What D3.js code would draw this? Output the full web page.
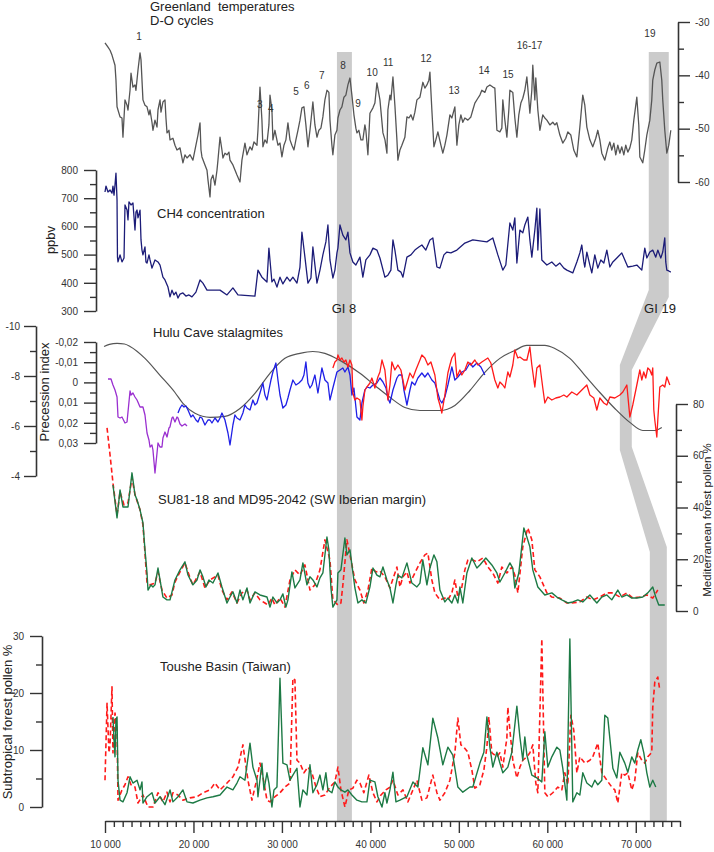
<!DOCTYPE html>
<html><head><meta charset="utf-8">
<script src="https://cdn.jsdelivr.net/npm/d3@7/dist/d3.min.js"></script>
<style>body{margin:0;background:#fff}svg{display:block}text{font-family:"Liberation Sans",Arial,sans-serif}</style>
</head><body><svg id="c" width="714" height="852"></svg>
<script>
// ages in ka (thousand years)
const greenland = [[10.00,-33.9],[10.34,-34.7],[10.57,-35.3],[10.79,-36.2],[11.13,-38.1],[11.24,-40.9],[11.36,-45.9],[11.70,-47.8],[11.92,-48.0],[12.03,-51.6],[12.26,-44.6],[12.49,-45.6],[12.60,-46.5],[12.83,-42.8],[12.94,-39.6],[13.16,-42.2],[13.39,-41.8],[13.50,-42.8],[13.73,-39.0],[13.96,-35.8],[14.07,-37.1],[14.29,-44.6],[14.52,-45.6],[14.75,-45.9],[14.97,-47.4],[15.09,-46.5],[15.31,-48.8],[15.42,-50.3],[15.65,-48.4],[15.88,-49.7],[15.99,-46.5],[16.22,-44.6],[16.33,-46.9],[16.55,-45.0],[16.78,-44.6],[16.89,-48.0],[17.01,-50.8],[17.23,-50.3],[17.35,-52.1],[17.68,-51.8],[17.91,-53.1],[18.14,-54.0],[18.48,-53.6],[18.81,-56.4],[19.04,-54.9],[19.27,-55.5],[19.61,-54.9],[19.94,-55.9],[20.28,-53.1],[20.51,-51.2],[20.74,-48.9],[20.85,-54.0],[20.96,-55.3],[21.30,-56.8],[21.53,-57.8],[21.64,-59.6],[21.87,-62.8],[21.98,-59.6],[22.20,-58.7],[22.43,-60.6],[22.66,-57.8],[22.77,-55.9],[23.00,-51.6],[23.22,-54.0],[23.33,-55.5],[23.56,-54.6],[23.79,-54.9],[24.01,-54.4],[24.13,-55.9],[24.46,-56.8],[24.92,-58.7],[25.26,-60.0],[25.48,-55.9],[25.82,-52.7],[26.05,-54.9],[26.39,-53.4],[26.61,-54.0],[26.84,-52.5],[27.18,-53.1],[27.29,-50.3],[27.52,-42.2],[27.74,-48.4],[27.85,-53.4],[28.08,-52.1],[28.31,-52.7],[28.53,-49.3],[28.65,-43.7],[28.87,-46.5],[28.98,-52.1],[29.21,-50.3],[29.55,-53.1],[29.78,-52.7],[30.00,-55.3],[30.23,-53.1],[30.45,-52.1],[30.68,-48.9],[30.91,-52.1],[31.13,-53.1],[31.36,-54.0],[31.58,-52.1],[31.81,-50.3],[32.04,-48.4],[32.26,-46.1],[32.49,-45.9],[32.71,-49.3],[32.94,-53.4],[33.17,-50.3],[33.50,-45.0],[33.73,-49.3],[33.96,-51.6],[34.18,-50.3],[34.41,-49.9],[34.63,-47.8],[34.86,-44.6],[35.09,-42.8],[35.31,-43.2],[35.43,-48.4],[35.65,-53.1],[35.76,-54.9],[35.99,-51.2],[36.22,-50.3],[36.33,-48.0],[36.56,-46.5],[36.78,-45.9],[37.01,-44.1],[37.23,-43.7],[37.46,-41.8],[37.69,-40.5],[37.91,-43.7],[38.14,-47.4],[38.36,-49.9],[38.48,-50.8],[38.70,-50.3],[38.93,-52.1],[39.15,-52.1],[39.38,-49.3],[39.49,-50.3],[39.72,-54.9],[39.95,-47.1],[40.29,-46.1],[40.51,-45.2],[40.74,-41.4],[41.08,-44.6],[41.42,-50.8],[41.65,-52.1],[41.87,-54.6],[41.98,-46.5],[42.21,-43.7],[42.32,-44.6],[42.55,-40.3],[42.77,-45.6],[43.00,-52.1],[43.11,-55.9],[43.34,-54.0],[43.56,-53.1],[43.90,-51.6],[44.13,-47.8],[44.36,-48.0],[44.58,-47.4],[44.81,-48.4],[45.03,-46.9],[45.26,-44.6],[45.60,-44.1],[45.93,-41.3],[46.16,-42.4],[46.39,-41.8],[46.61,-40.9],[46.73,-39.4],[46.95,-46.5],[47.18,-53.4],[47.40,-52.1],[47.63,-50.6],[47.97,-53.1],[48.19,-54.6],[48.42,-53.1],[48.65,-51.2],[48.99,-47.4],[49.21,-48.0],[49.55,-45.9],[49.78,-53.1],[50.00,-49.3],[50.23,-47.4],[50.45,-48.8],[50.68,-48.0],[51.02,-48.4],[51.36,-47.8],[51.58,-46.5],[51.81,-45.2],[52.15,-44.3],[52.38,-43.7],[52.60,-42.8],[52.94,-43.2],[53.17,-42.2],[53.51,-41.8],[53.84,-42.2],[54.07,-42.4],[54.30,-50.3],[54.64,-50.6],[54.86,-49.9],[54.97,-44.6],[55.20,-48.4],[55.43,-51.6],[55.65,-46.5],[55.77,-42.8],[56.10,-43.2],[56.33,-48.0],[56.56,-51.6],[56.78,-47.4],[57.01,-45.2],[57.23,-44.3],[57.46,-42.8],[57.69,-40.3],[57.91,-44.6],[58.03,-47.1],[58.25,-42.8],[58.36,-38.1],[58.59,-44.6],[58.70,-40.5],[58.93,-46.5],[59.16,-50.3],[59.49,-47.4],[59.72,-48.0],[59.95,-48.4],[60.29,-49.3],[60.62,-48.8],[60.85,-49.3],[61.08,-48.9],[61.42,-51.2],[61.75,-52.7],[62.09,-51.8],[62.32,-50.6],[62.66,-51.2],[62.99,-54.0],[63.34,-55.3],[63.68,-49.7],[63.90,-45.6],[64.01,-43.7],[64.24,-45.6],[64.47,-49.7],[64.81,-52.1],[65.14,-53.4],[65.48,-51.8],[65.71,-50.3],[65.94,-52.1],[66.16,-54.6],[66.50,-55.9],[66.84,-53.6],[67.07,-52.5],[67.29,-54.0],[67.52,-52.7],[67.74,-54.9],[67.97,-53.1],[68.20,-54.6],[68.42,-53.4],[68.65,-54.9],[68.87,-53.1],[69.10,-54.4],[69.33,-53.6],[69.55,-52.1],[69.78,-48.4],[70.12,-44.1],[70.34,-49.3],[70.46,-55.3],[70.79,-56.4],[71.02,-54.0],[71.25,-51.2],[71.59,-48.4],[71.81,-44.6],[71.92,-40.9],[72.15,-39.0],[72.38,-37.7],[72.72,-37.5],[72.94,-40.9],[73.05,-44.6],[73.28,-50.3],[73.51,-54.6],[73.73,-53.1],[73.96,-50.3]];

const ch4 = [[10.00,722],[10.11,743],[10.34,722],[10.57,729],[10.79,718],[10.90,743],[11.02,711],[11.13,747],[11.24,789],[11.36,694],[11.41,491],[11.47,474],[11.70,499],[11.92,474],[12.15,488],[12.26,676],[12.49,658],[12.60,623],[12.71,687],[12.94,676],[13.16,683],[13.39,587],[13.50,651],[13.62,658],[13.73,630],[13.96,658],[14.07,552],[14.18,516],[14.29,499],[14.52,527],[14.63,474],[14.75,470],[14.97,499],[15.09,481],[15.31,452],[15.65,481],[15.99,474],[16.22,463],[16.55,420],[16.78,410],[17.12,385],[17.35,350],[17.57,374],[17.80,357],[18.02,367],[18.25,346],[18.48,360],[18.81,364],[19.15,353],[19.49,357],[19.83,350],[20.28,367],[20.74,410],[21.07,399],[21.53,374],[23.00,374],[23.79,357],[24.46,382],[25.03,357],[26.95,353],[27.29,445],[27.74,420],[28.31,403],[28.53,523],[28.87,403],[29.10,413],[29.44,385],[29.78,420],[30.11,396],[30.57,420],[30.91,406],[31.24,420],[31.70,399],[32.04,456],[32.26,580],[32.60,491],[32.94,399],[33.28,417],[33.50,527],[33.96,399],[34.30,445],[34.63,499],[34.97,545],[35.20,605],[35.43,481],[35.76,417],[35.99,445],[36.22,506],[36.33,523],[36.56,605],[36.89,569],[37.23,552],[37.46,580],[37.69,506],[38.02,474],[38.36,463],[38.82,491],[39.15,420],[39.49,481],[39.95,499],[40.29,523],[40.74,516],[41.08,488],[41.64,420],[41.98,427],[42.32,445],[42.55,552],[42.77,516],[43.11,445],[43.45,438],[43.68,420],[44.13,491],[44.58,499],[45.03,516],[45.48,527],[45.82,534],[46.27,516],[46.73,552],[47.06,559],[47.52,456],[47.86,452],[48.31,499],[48.65,509],[49.10,506],[49.78,516],[50.68,541],[51.58,552],[53.17,545],[53.84,559],[54.41,499],[54.97,445],[55.31,463],[55.77,612],[56.10,587],[56.33,630],[56.56,470],[56.90,587],[57.23,577],[57.46,605],[57.80,633],[58.03,552],[58.25,491],[58.59,587],[58.82,665],[58.93,516],[59.16,662],[59.38,481],[59.72,470],[59.95,463],[60.51,474],[60.96,459],[61.42,470],[61.87,452],[62.21,445],[62.88,435],[63.34,474],[63.68,506],[63.90,534],[64.13,474],[64.24,456],[64.47,509],[64.81,463],[65.03,435],[65.37,499],[65.71,452],[66.05,481],[66.39,470],[66.73,516],[67.07,456],[67.41,474],[67.86,488],[68.42,506],[69.10,456],[69.66,459],[70.12,463],[70.68,445],[71.02,523],[71.25,488],[71.59,509],[71.92,516],[72.26,491],[72.49,516],[72.83,488],[73.05,509],[73.28,559],[73.39,474],[73.51,445],[73.73,442],[73.96,438]];

const precession = [[9.89,-0.0178],[10.5,-0.0188],[11.36,-0.0193],[12.2,-0.0190],[12.83,-0.0178],[14.52,-0.0119],[16.22,-0.0035],[17.91,0.0050],[18.81,0.0104],[20.17,0.0153],[21.87,0.0173],[23.56,0.0168],[25.26,0.0129],[26.95,0.0054],[28.65,-0.0045],[30.34,-0.0119],[32.04,-0.0144],[33.50,-0.0153],[34.86,-0.0144],[36.56,-0.0109],[38.82,-0.0045],[40.51,0.0015],[42.21,0.0074],[43.90,0.0124],[45.60,0.0139],[47.86,0.0139],[49.55,0.0114],[51.25,0.0040],[52.94,-0.0050],[54.64,-0.0119],[56.33,-0.0158],[57.69,-0.0183],[59.72,-0.0183],[60.85,-0.0168],[62.55,-0.0119],[64.24,-0.0035],[65.94,0.0050],[67.63,0.0129],[69.33,0.0198],[70.79,0.0238],[72.15,0.0238],[72.94,0.0223]];

const huluPurple = [[10.34,-7.88],[10.68,-7.88],[10.90,-7.64],[11.13,-7.44],[11.36,-7.16],[11.47,-6.36],[11.70,-6.32],[11.92,-6.36],[12.26,-6.12],[12.49,-6.16],[12.83,-7.40],[12.94,-7.24],[13.16,-7.32],[13.39,-7.16],[13.62,-7.04],[13.96,-6.76],[14.29,-6.76],[14.52,-6.44],[14.75,-5.72],[14.97,-5.44],[15.09,-5.16],[15.31,-5.24],[15.42,-5.04],[15.65,-4.12],[15.88,-4.92],[15.99,-5.32],[16.22,-5.16],[16.44,-5.16],[16.55,-5.52],[16.78,-5.76],[17.01,-5.56],[17.23,-5.92],[17.34,-5.96],[17.57,-6.32],[17.68,-6.36],[17.91,-6.16],[18.14,-6.36],[18.25,-6.32],[18.48,-6.08],[18.70,-6.00],[19.04,-6.08],[19.27,-6.00]];

const huluBlue = [[18.25,-6.52],[18.48,-6.72],[18.70,-6.84],[18.93,-6.76],[19.15,-6.80],[19.38,-6.64],[19.72,-6.36],[19.94,-6.44],[20.28,-6.24],[20.51,-6.16],[20.74,-6.36],[20.96,-6.32],[21.30,-6.04],[21.64,-6.24],[21.87,-6.24],[22.09,-6.12],[22.43,-6.32],[22.77,-6.16],[23.00,-6.32],[23.22,-6.52],[23.56,-6.24],[23.90,-5.72],[24.13,-5.24],[24.46,-6.04],[24.69,-6.44],[24.92,-6.32],[25.26,-6.24],[25.59,-6.52],[25.82,-6.84],[26.05,-6.72],[26.39,-6.64],[26.72,-7.04],[26.95,-6.84],[27.18,-6.92],[27.52,-7.32],[27.85,-7.72],[28.08,-7.24],[28.31,-7.04],[28.53,-7.44],[28.76,-7.84],[28.98,-8.16],[29.32,-8.52],[29.55,-7.84],[29.78,-7.24],[30.11,-6.72],[30.45,-6.84],[30.68,-7.12],[30.91,-7.44],[31.24,-7.84],[31.58,-7.64],[31.92,-7.72],[32.26,-7.84],[32.49,-8.04],[32.71,-8.56],[32.94,-7.72],[33.17,-7.52],[33.39,-7.64],[33.73,-8.04],[34.07,-7.32],[34.30,-7.84],[34.52,-8.32],[34.86,-7.84],[35.20,-7.72],[35.43,-7.04],[35.76,-7.52],[35.99,-7.84],[36.22,-8.16],[36.56,-8.24],[36.89,-8.32],[37.12,-8.16],[37.46,-8.36],[37.69,-8.04],[37.91,-7.24],[38.14,-7.52],[38.48,-6.36],[38.82,-6.24],[39.04,-6.92],[39.38,-7.44],[39.61,-7.56],[39.95,-7.52],[40.29,-7.64],[40.74,-7.72],[41.08,-7.92],[41.42,-7.76],[41.76,-7.52],[41.98,-7.12],[42.21,-6.92],[42.55,-7.44],[43.00,-7.92],[43.22,-8.04],[43.56,-8.04],[43.79,-7.44],[44.13,-6.84],[44.47,-7.44],[44.69,-7.76],[45.03,-7.64],[45.37,-7.92],[45.82,-8.12],[46.16,-7.96],[46.50,-8.12],[46.95,-7.84],[47.29,-7.72],[47.86,-7.04],[48.08,-6.92],[48.42,-7.16],[48.76,-7.64],[49.21,-8.36],[49.55,-7.84],[49.89,-7.96],[50.34,-8.16],[50.79,-8.24],[51.25,-8.52],[51.58,-8.36],[52.04,-8.52],[52.49,-8.36],[52.94,-8.04]];

const huluRed = [[35.76,-8.32],[35.99,-8.56],[36.22,-8.64],[36.33,-8.84],[36.56,-8.64],[36.78,-8.72],[37.01,-8.56],[37.23,-8.64],[37.46,-8.36],[37.69,-8.64],[37.91,-8.44],[38.02,-7.32],[38.25,-7.04],[38.48,-7.12],[38.82,-7.04],[39.04,-6.24],[39.15,-6.76],[39.38,-7.44],[39.61,-7.56],[39.95,-7.72],[40.17,-7.92],[40.51,-7.52],[40.85,-7.96],[41.08,-8.16],[41.31,-8.64],[41.64,-8.24],[41.98,-7.04],[42.21,-7.64],[42.43,-8.56],[42.77,-8.24],[43.11,-8.44],[43.45,-8.24],[43.90,-7.44],[44.24,-7.84],[44.47,-8.12],[44.81,-7.92],[45.14,-8.24],[45.37,-8.44],[45.60,-8.64],[45.82,-8.84],[46.16,-8.72],[46.50,-8.44],[46.84,-8.56],[47.29,-8.04],[47.63,-7.12],[47.86,-6.84],[48.08,-6.52],[48.42,-7.24],[48.76,-8.12],[48.99,-8.44],[49.21,-8.72],[49.55,-8.92],[49.78,-7.96],[50.12,-8.24],[50.34,-8.04],[50.68,-8.24],[51.02,-8.56],[51.36,-8.44],[51.81,-8.64],[52.15,-8.44],[52.60,-8.56],[52.94,-8.64],[53.28,-8.72],[53.62,-8.52],[54.07,-7.84],[54.41,-7.52],[54.64,-7.76],[54.97,-7.64],[55.20,-7.52],[55.54,-8.16],[55.77,-7.96],[56.10,-8.44],[56.33,-9.04],[56.67,-8.72],[56.90,-8.76],[57.35,-8.64],[57.69,-8.64],[58.03,-9.16],[58.25,-8.44],[58.59,-7.56],[58.82,-8.32],[59.16,-8.44],[59.49,-7.52],[59.72,-6.92],[60.06,-7.16],[60.51,-7.04],[60.96,-7.12],[61.42,-7.16],[61.87,-7.24],[62.21,-7.16],[62.77,-7.36],[63.34,-7.24],[63.90,-7.44],[64.47,-7.64],[64.81,-7.24],[65.26,-7.12],[65.60,-6.64],[65.94,-7.12],[66.39,-6.92],[66.73,-6.84],[67.07,-7.16],[67.63,-7.12],[68.20,-7.24],[68.54,-7.36],[68.99,-7.64],[69.33,-6.36],[69.66,-6.84],[70.12,-7.64],[70.46,-8.24],[70.68,-7.84],[70.90,-8.16],[71.13,-7.92],[71.36,-8.32],[71.59,-8.24],[71.81,-8.04],[71.92,-8.32],[72.04,-6.64],[72.15,-6.24],[72.38,-5.56],[72.49,-6.24],[72.72,-7.56],[73.05,-7.64],[73.28,-7.56],[73.51,-7.96],[73.85,-7.64]];

const iberianGreen = [[10.90,48.7],[11.36,36.0],[11.70,46.8],[12.03,40.2],[12.26,40.2],[12.60,40.2],[13.05,53.4],[13.39,44.9],[13.62,42.9],[13.96,39.1],[14.29,34.0],[14.52,23.6],[14.75,14.7],[14.86,8.1],[15.20,10.1],[15.42,9.3],[15.65,10.1],[15.99,16.6],[16.22,12.0],[16.55,5.4],[17.01,4.3],[17.35,4.3],[17.91,12.0],[18.48,15.9],[19.04,19.0],[19.38,13.9],[19.94,10.1],[20.40,12.0],[20.74,15.9],[21.07,13.2],[21.41,9.3],[21.75,12.0],[22.20,10.8],[22.77,14.7],[23.22,9.3],[23.79,3.1],[24.13,5.4],[24.46,7.4],[24.92,3.1],[25.26,8.1],[25.59,4.3],[26.05,8.9],[26.39,3.1],[26.95,7.4],[27.52,6.2],[28.31,5.4],[28.65,1.5],[28.98,5.4],[29.44,3.1],[29.78,4.3],[30.11,6.6],[30.45,1.5],[30.68,4.3],[31.13,15.1],[31.47,8.9],[32.04,12.0],[32.37,18.6],[32.83,10.1],[33.17,13.2],[33.50,12.0],[33.96,9.3],[34.30,12.8],[34.63,14.7],[35.09,28.6],[35.31,23.6],[35.54,8.9],[35.76,1.5],[36.22,4.3],[36.33,14.7],[36.67,15.9],[37.12,28.2],[37.35,21.7],[37.69,23.6],[38.25,8.9],[38.59,3.1],[39.04,4.3],[39.49,3.1],[39.95,9.3],[40.29,16.6],[40.74,13.9],[41.08,13.2],[41.42,17.0],[41.87,12.0],[42.21,8.9],[42.55,3.1],[42.89,10.1],[43.11,13.9],[43.56,12.8],[44.13,18.6],[44.69,10.8],[45.26,9.3],[45.60,10.8],[45.93,19.7],[46.39,10.1],[46.73,16.6],[47.18,21.7],[47.52,19.0],[47.86,8.1],[48.42,3.5],[48.76,5.0],[49.21,3.1],[49.55,6.2],[49.89,3.1],[50.12,9.3],[50.45,3.1],[50.91,14.7],[51.47,20.5],[52.04,16.6],[52.38,17.8],[53.05,20.5],[53.73,17.8],[54.30,14.7],[54.64,11.2],[55.20,14.7],[55.77,18.6],[56.10,16.6],[56.33,8.9],[56.78,14.7],[57.35,32.1],[57.69,28.6],[58.03,24.8],[58.36,15.9],[58.93,9.3],[59.72,6.2],[60.51,7.0],[61.08,5.4],[61.64,4.3],[62.32,3.1],[62.88,3.5],[63.45,4.3],[64.01,3.5],[64.81,6.2],[65.60,3.1],[66.16,5.4],[66.73,6.2],[67.29,4.3],[67.97,8.1],[68.42,5.4],[68.99,6.2],[69.55,5.0],[70.12,5.0],[70.79,5.4],[71.36,7.0],[71.92,9.3],[72.26,5.4],[72.60,2.3],[73.28,2.3]];

const iberianRed = [[10.23,70.8],[10.57,60.3],[10.90,49.5],[11.36,37.1],[11.70,46.0],[12.15,41.0],[12.60,41.8],[13.05,51.5],[13.39,44.9],[13.96,39.1],[14.29,33.3],[14.52,22.4],[14.75,10.8],[15.09,10.1],[15.65,10.8],[15.99,15.1],[16.44,8.1],[17.01,5.0],[17.57,6.2],[17.91,11.2],[18.48,15.1],[19.04,18.6],[19.61,12.8],[19.94,10.1],[20.74,15.1],[21.30,8.9],[21.87,12.0],[22.77,13.9],[23.22,8.1],[23.79,4.3],[24.35,7.4],[24.92,3.1],[25.48,7.0],[26.05,8.1],[26.39,4.3],[26.95,7.0],[27.52,4.3],[28.08,3.1],[28.42,2.3],[28.87,5.0],[29.21,2.3],[29.78,5.0],[30.34,1.5],[30.91,12.0],[31.47,15.9],[32.04,13.9],[32.60,17.8],[33.17,8.1],[33.73,10.1],[34.30,15.9],[34.86,27.5],[35.43,19.7],[35.76,4.3],[36.33,2.3],[36.67,3.1],[36.89,10.1],[37.35,27.5],[37.69,21.7],[38.25,12.0],[38.82,8.1],[39.26,3.1],[39.72,8.1],[40.17,16.6],[40.63,15.1],[41.08,15.5],[41.64,13.2],[42.21,8.9],[43.00,17.0],[43.34,9.3],[43.68,13.2],[44.13,15.1],[44.47,10.8],[45.03,14.7],[45.60,18.6],[46.16,21.7],[46.50,22.4],[46.95,12.0],[47.29,7.0],[47.86,4.3],[48.42,5.0],[48.76,4.3],[49.21,7.0],[49.55,12.0],[49.89,5.4],[50.34,9.3],[50.68,15.9],[51.02,19.7],[51.58,19.7],[52.04,19.0],[52.72,20.5],[53.28,17.0],[53.84,14.7],[54.41,10.8],[54.86,17.0],[55.43,14.7],[55.99,17.0],[56.33,13.9],[56.67,7.0],[57.23,24.8],[57.80,32.1],[58.25,27.5],[58.59,15.9],[59.16,13.2],[59.95,7.0],[60.51,5.4],[61.42,5.0],[62.21,3.1],[62.77,3.1],[63.68,3.5],[64.47,5.4],[65.14,4.3],[65.94,5.4],[66.73,7.0],[67.41,7.0],[68.20,5.4],[68.99,7.0],[69.66,5.0],[70.46,5.4],[71.25,6.2],[71.92,5.0],[72.49,8.1]];

const tousheGreen = [[10.90,15.8],[11.02,11.8],[11.13,8.8],[11.24,15.3],[11.36,15.8],[11.47,4.7],[11.70,1.2],[12.03,0.9],[12.49,2.5],[12.83,5.3],[13.16,4.2],[13.62,4.7],[13.96,3.0],[14.18,4.4],[14.29,0.7],[14.75,1.8],[15.31,2.5],[15.65,0.7],[16.22,1.8],[16.78,0.4],[17.35,3.0],[17.68,0.9],[18.25,1.8],[18.81,3.0],[19.27,0.9],[19.94,0.7],[20.74,1.2],[21.53,1.6],[22.20,1.8],[23.00,2.1],[23.79,3.5],[24.46,3.0],[24.92,4.2],[25.26,5.3],[25.82,4.7],[26.39,11.2],[26.72,7.0],[27.18,4.7],[27.29,1.8],[27.74,7.7],[27.97,3.0],[28.31,6.0],[28.53,4.2],[28.87,0.0],[29.10,3.0],[29.44,3.5],[29.78,22.6],[30.11,7.7],[30.57,7.4],[30.91,4.7],[31.24,5.6],[31.70,6.8],[32.04,0.0],[32.37,3.0],[32.83,2.1],[33.17,7.4],[33.50,2.5],[33.96,3.9],[34.30,5.6],[34.63,3.0],[34.97,6.0],[35.20,3.0],[35.65,2.5],[35.99,4.4],[36.33,3.5],[36.67,3.0],[37.12,2.6],[37.46,3.0],[37.91,2.1],[38.48,1.2],[39.04,0.9],[39.61,0.9],[39.95,4.7],[40.51,4.4],[40.85,1.8],[41.31,0.0],[41.64,2.5],[41.87,0.7],[42.21,3.0],[42.55,6.1],[42.89,0.9],[43.34,1.2],[44.13,1.8],[44.81,4.4],[45.37,3.5],[45.93,10.4],[46.50,7.4],[47.06,15.6],[47.63,12.1],[48.19,7.4],[48.76,10.5],[49.32,9.1],[49.89,3.5],[50.45,2.6],[51.25,3.5],[51.58,3.5],[52.38,7.7],[52.83,9.6],[53.17,15.8],[53.51,10.5],[53.84,7.0],[54.30,9.6],[54.64,7.7],[54.97,6.0],[55.54,7.0],[55.99,9.6],[56.56,17.7],[56.90,12.3],[57.23,8.2],[57.46,12.3],[57.69,9.1],[58.03,7.0],[58.25,5.6],[58.82,5.1],[59.38,4.4],[59.72,13.2],[60.06,7.0],[60.51,8.8],[61.08,10.5],[61.42,10.0],[61.75,6.8],[62.21,1.2],[62.55,29.5],[62.88,0.9],[63.34,2.5],[63.68,2.1],[64.01,6.0],[64.47,4.2],[65.03,3.5],[65.37,4.7],[65.71,3.9],[66.16,4.7],[66.50,16.1],[66.84,15.6],[67.41,6.8],[67.86,5.1],[68.20,9.6],[68.76,7.7],[69.10,6.1],[69.55,8.8],[69.89,7.7],[70.23,10.0],[70.57,11.8],[70.91,9.5],[71.25,6.0],[71.59,3.5],[71.92,4.7],[72.26,3.5]];

const tousheRed = [[10.00,4.7],[10.23,18.2],[10.45,9.5],[10.57,10.9],[10.79,21.1],[10.90,9.5],[11.13,16.5],[11.36,13.5],[11.47,1.2],[11.92,3.0],[12.26,3.9],[12.60,5.3],[12.94,3.9],[13.39,3.5],[13.73,0.7],[14.29,2.1],[14.86,0.0],[15.42,0.0],[15.99,2.5],[16.55,0.9],[17.01,2.6],[17.35,0.9],[17.68,2.5],[18.25,2.1],[18.81,1.2],[19.61,1.6],[20.40,1.8],[21.07,2.5],[21.87,3.0],[22.43,4.2],[23.00,3.0],[23.79,4.2],[24.46,5.3],[25.03,7.0],[25.59,10.9],[26.16,4.7],[26.61,1.2],[27.06,4.2],[27.52,7.7],[27.85,5.3],[28.31,1.2],[28.65,0.9],[29.21,1.8],[29.78,2.5],[30.34,3.5],[30.91,4.2],[31.24,22.6],[31.47,22.3],[31.70,8.2],[32.04,7.7],[32.49,6.0],[32.94,7.0],[33.39,6.0],[33.85,3.5],[34.30,1.8],[34.86,2.1],[35.43,3.5],[35.99,4.4],[36.33,7.0],[36.67,3.0],[37.12,0.0],[37.57,3.0],[38.02,3.3],[38.48,4.7],[38.82,4.2],[39.26,2.5],[39.83,5.6],[40.29,2.5],[40.74,0.9],[41.19,2.1],[41.76,3.0],[42.21,3.5],[42.55,4.7],[43.11,2.1],[43.68,3.0],[44.24,0.9],[44.81,3.0],[45.26,4.7],[45.82,1.2],[46.39,1.6],[47.06,5.6],[47.52,2.5],[47.86,1.2],[48.42,2.5],[48.99,4.7],[49.55,9.5],[49.89,15.6],[50.23,10.9],[50.57,10.5],[51.02,9.6],[51.47,6.5],[51.81,3.3],[52.38,3.9],[52.83,6.5],[53.17,10.5],[53.39,15.8],[53.73,9.5],[54.30,8.8],[54.64,9.5],[54.97,7.0],[55.43,12.1],[55.54,17.5],[55.77,13.5],[56.10,8.2],[56.56,5.1],[56.90,7.0],[57.23,8.2],[57.69,8.8],[58.03,9.5],[58.36,10.9],[58.70,4.2],[58.93,2.5],[59.38,29.5],[59.72,2.5],[60.06,1.8],[60.62,2.5],[61.19,3.5],[61.64,3.0],[61.98,6.0],[62.32,3.9],[62.66,16.1],[62.99,13.5],[63.34,6.0],[63.68,8.8],[64.24,7.7],[64.81,8.2],[65.14,8.8],[65.71,11.2],[66.16,6.0],[66.73,4.7],[67.29,3.5],[67.63,3.0],[67.97,0.7],[68.42,6.0],[68.76,5.6],[69.10,6.0],[69.55,3.0],[69.89,4.7],[70.23,9.5],[70.68,8.2],[71.02,7.7],[71.36,8.8],[71.81,9.6],[71.92,17.5],[72.15,21.9],[72.49,22.8],[72.72,20.5]];

// D-O interstadial numbers: [label, age ka, temperature value]
const doLabels = [["1",13.84,-33.4],["3",27.5,-46.1],["4",28.75,-46.9],["5",31.6,-43.7],["6",32.8,-42.6],["7",34.5,-40.7],["8",36.9,-38.8],["9",38.6,-45.9],["10",40.2,-40.1],["11",42.0,-38.3],["12",46.3,-37.5],["13",49.45,-43.5],["14",52.85,-39.8],["15",55.56,-40.5],["16-17",58.0,-35.1],["19",71.6,-32.8]];

const gi8Band = [36.22, 37.91];
const gi19Left = [71.47, 71.47, 68.20, 68.20, 71.59, 71.59];
const gi19Right = [73.73, 73.73, 69.55, 69.55, 73.51, 73.51];

const xTicks = [10,20,30,40,50,60,70];
const xTickLabels = ["10 000","20 000","30 000","40 000","50 000","60 000","70 000"];
const grTicks = [-30,-40,-50,-60], grLabels = ["-30","-40","-50","-60"];
const chTicks = [300,400,500,600,700,800], chLabels = ["300","400","500","600","700","800"];
const huTicks = [-10,-8,-6,-4], huLabels = ["-10","-8","-6","-4"];
const prTicks = [-0.02,-0.01,0,0.01,0.02,0.03], prLabels = ["-0,02","-0,01","0","0,01","0,02","0,03"];
const ibTicks = [0,20,40,60,80], ibLabels = ["0","20","40","60","80"];
const toTicks = [0,10,20,30], toLabels = ["0","10","20","30"];

const svg = d3.select("#c");
const x = d3.scaleLinear().domain([10,75]).range([105,680]);
const yG = d3.scaleLinear().domain([-30,-60]).range([22,182]);
const yC = d3.scaleLinear().domain([300,800]).range([311,170]);
const yH = d3.scaleLinear().domain([-10,-4]).range([326,476]);
const yP = d3.scaleLinear().domain([-0.02,0.03]).range([342,443]);
const yI = d3.scaleLinear().domain([0,80]).range([611,404]);
const yT = d3.scaleLinear().domain([0,30]).range([807,636]);

// bands
const bandFill = "#cbcbcb";
svg.append("rect").attr("x", x(gi8Band[0])).attr("y", 52)
  .attr("width", x(gi8Band[1]) - x(gi8Band[0])).attr("height", 821 - 52).attr("fill", bandFill);
const lys = [52, 290, 365, 450, 552, 821], rys = [52, 297, 370, 447, 547, 821];
const poly = gi19Left.map((v,i)=>[x(v), lys[i]]).concat(gi19Right.map((v,i)=>[x(v), rys[i]]).reverse());
svg.append("polygon").attr("points", poly.map(p=>p.join(",")).join(" ")).attr("fill", bandFill);

function line(data, ys, color, w, dash, curve) {
  const gen = d3.line().x(d=>x(d[0])).y(d=>ys(d[1]));
  if (curve) gen.curve(curve);
  const p = svg.append("path").attr("d", gen(data)).attr("fill","none")
    .attr("stroke", color).attr("stroke-width", w).attr("stroke-linejoin","round");
  if (dash) p.attr("stroke-dasharray", dash);
}
line(greenland, yG, "#555", 1.3);
line(ch4, yC, "#1c1c78", 1.3);
line(precession, yP, "#555", 1.2, null, d3.curveMonotoneX);
line(huluPurple, yH, "#9a2fd0", 1.3);
line(huluBlue, yH, "#1f1fe6", 1.3);
line(huluRed, yH, "#ff1a1a", 1.3);
line(iberianRed, yI, "#ff1a1a", 1.6, "5,3");
line(iberianGreen, yI, "#1d7a45", 1.4);
line(tousheRed, yT, "#ff1a1a", 1.6, "5,3");
line(tousheGreen, yT, "#1d7a45", 1.4);

// axes
const axCol = "#333";
function axis(gen, scale, ticks, labels, minor, pad, tr) {
  const gm = svg.append("g").attr("transform", tr)
    .call(gen(scale).tickValues(minor).tickSize(6).tickSizeOuter(0).tickFormat(""));
  gm.select(".domain").remove();
  const g = svg.append("g").attr("transform", tr)
    .call(gen(scale).tickValues(ticks).tickSize(12).tickSizeOuter(0).tickPadding(pad).tickFormat((d,i)=>labels[i]));
  [gm, g].forEach(s=>{
    s.selectAll("line").attr("stroke", axCol).attr("stroke-width", 1.4);
    s.selectAll(".domain").attr("stroke", axCol).attr("stroke-width", 1.6);
    s.selectAll("text").attr("fill", axCol).style("font-size","10px").style("font-family",'"Liberation Sans",Arial,sans-serif');
  });
}
axis(d3.axisRight, yG, grTicks, grLabels, [-35,-45,-55], 5, "translate(678,0)");
axis(d3.axisLeft, yC, chTicks, chLabels, [350,450,550,650,750], 6, "translate(96,0)");
axis(d3.axisLeft, yH, huTicks, huLabels, [-9,-7,-5], 4, "translate(36,0)");
axis(d3.axisLeft, yP, prTicks, prLabels, [-0.015,-0.005,0.005,0.015,0.025], 6, "translate(96,0)");
axis(d3.axisRight, yI, ibTicks, ibLabels, [10,30,50,70], 5, "translate(676,0)");
axis(d3.axisLeft, yT, toTicks, toLabels, [5,15,25], 6, "translate(42,0)");
const minorX = d3.range(11,76).filter(v=>v%10!==0);
axis(d3.axisBottom, x, xTicks, xTickLabels, minorX, 8, "translate(0,821)");

// texts
function txt(s, tx, ty, size, anchor, rot) {
  const t = svg.append("text").attr("x", tx).attr("y", ty).text(s)
    .attr("fill","#222").style("font-size", size+"px").style("white-space","pre")
    .attr("text-anchor", anchor || "start");
  if (rot) t.attr("transform", `rotate(${rot},${tx},${ty})`);
  return t;
}
txt("Greenland  temperatures", 150, 10.5, 13);
txt("D-O cycles", 150, 25, 13);
txt("CH4 concentration", 157, 218, 13);
txt("Hulu Cave stalagmites", 153, 337, 13);
txt("SU81-18 and MD95-2042 (SW Iberian margin)", 158, 504, 13);
txt("Toushe Basin (Taiwan)", 160, 671, 13);
txt("GI 8", 344, 313, 13, "middle");
txt("GI 19", 660, 313, 13, "middle");
txt("ppbv", 55, 240, 13, "middle", -90);
txt("Precession index", 49, 392, 13, "middle", -90);
txt("Subtropical forest pollen %", 12, 722, 13, "middle", -90);
txt("Mediterranean forest pollen %", 711, 520, 11.5, "middle", -90);
doLabels.forEach(d => {
  txt(d[0], x(d[1]), yG(d[2]), 10, "middle").attr("fill","#333");
});
</script></body></html>
